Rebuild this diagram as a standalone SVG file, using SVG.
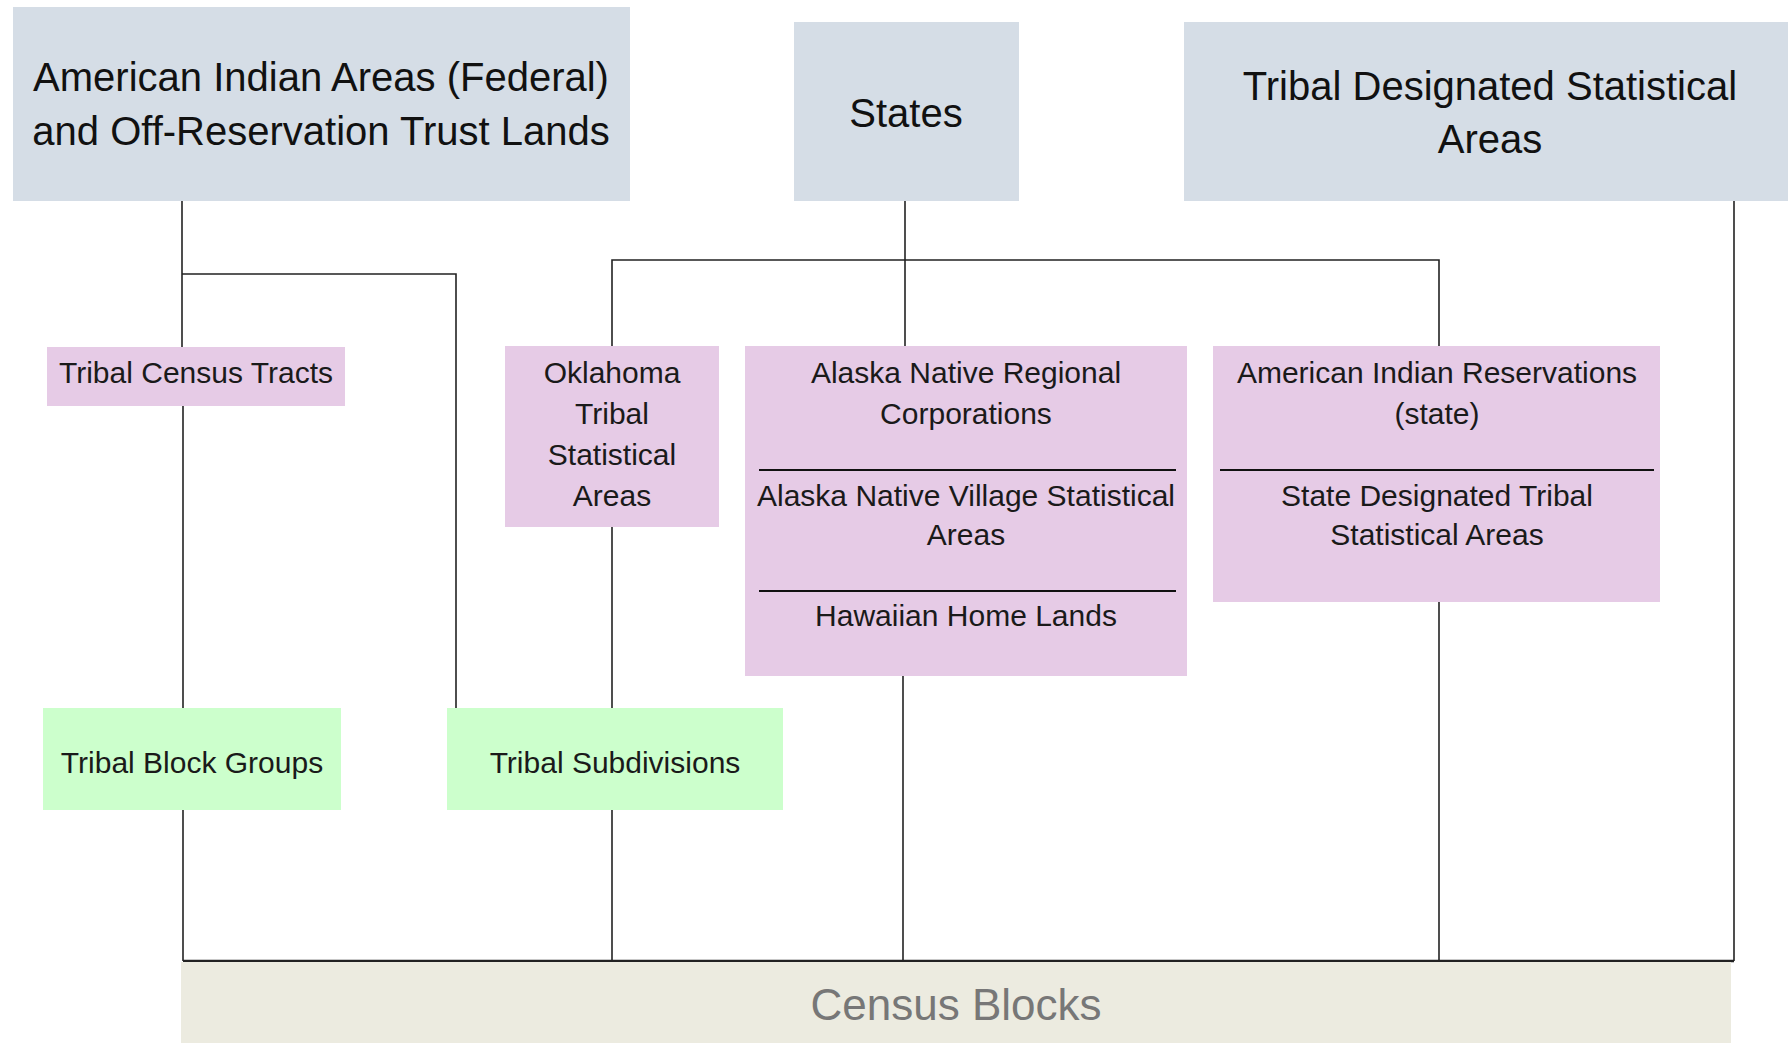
<svg xmlns="http://www.w3.org/2000/svg" width="1788" height="1043" viewBox="0 0 1788 1043">
<style>
.hdr{fill:#d5dde6}
.pk{fill:#e6cbe6}
.gr{fill:#ccffcc}
.cb{fill:#ecebe0}
.ht{font-family:"Liberation Sans",Arial,sans-serif;font-size:40px;fill:#111;text-anchor:middle}
.t{font-family:"Liberation Sans",Arial,sans-serif;font-size:30px;fill:#1a1a1a;text-anchor:middle}
.ct{font-family:"Liberation Sans",Arial,sans-serif;font-size:44px;fill:#777;text-anchor:middle}
.ln{stroke:#222;stroke-width:1.6;fill:none}
.dv{stroke:#111;stroke-width:2.2}
</style>
<rect width="1788" height="1043" fill="#ffffff"/>
<g id="connectors">
<path class="ln" d="M182 201V347"/>
<path class="ln" d="M182 274H456V708"/>
<path class="ln" d="M183 406V708"/>
<path class="ln" d="M183 810V961"/>
<path class="ln" d="M905 201V346"/>
<path class="ln" d="M612 346V260H1439V346"/>
<path class="ln" d="M612 527V708"/>
<path class="ln" d="M612 810V961"/>
<path class="ln" d="M903 676V961"/>
<path class="ln" d="M1439 602V961"/>
<path class="ln" d="M1734 201V961"/>
<path class="ln" d="M183 961H1734" style="stroke-width:2.4"/>
</g>
<g id="american-indian-areas">
<rect class="hdr" x="13" y="7" width="617" height="194"/>
<text class="ht" x="321" y="91">American Indian Areas (Federal)</text>
<text class="ht" x="321" y="145">and Off-Reservation Trust Lands</text>
</g>
<g id="states">
<rect class="hdr" x="794" y="22" width="225" height="179"/>
<text class="ht" x="906" y="127">States</text>
</g>
<g id="tribal-designated-statistical-areas">
<rect class="hdr" x="1184" y="22" width="612" height="179"/>
<text class="ht" x="1490" y="100">Tribal Designated Statistical</text>
<text class="ht" x="1490" y="153">Areas</text>
</g>
<g id="tribal-census-tracts">
<rect class="pk" x="47" y="347" width="298" height="59"/>
<text class="t" x="196" y="383">Tribal Census Tracts</text>
</g>
<g id="oklahoma">
<rect class="pk" x="505" y="346" width="214" height="181"/>
<text class="t" x="612" y="383">Oklahoma</text>
<text class="t" x="612" y="424">Tribal</text>
<text class="t" x="612" y="465">Statistical</text>
<text class="t" x="612" y="506">Areas</text>
</g>
<g id="alaska">
<rect class="pk" x="745" y="346" width="442" height="330"/>
<text class="t" x="966" y="383">Alaska Native Regional</text>
<text class="t" x="966" y="424">Corporations</text>
<line class="dv" x1="759" y1="470" x2="1176" y2="470"/>
<text class="t" x="966" y="506">Alaska Native Village Statistical</text>
<text class="t" x="966" y="545">Areas</text>
<line class="dv" x1="759" y1="591" x2="1176" y2="591"/>
<text class="t" x="966" y="626">Hawaiian Home Lands</text>
</g>
<g id="american-indian-reservations-state">
<rect class="pk" x="1213" y="346" width="447" height="256"/>
<text class="t" x="1437" y="383">American Indian Reservations</text>
<text class="t" x="1437" y="424">(state)</text>
<line class="dv" x1="1220" y1="470" x2="1654" y2="470"/>
<text class="t" x="1437" y="506">State Designated Tribal</text>
<text class="t" x="1437" y="545">Statistical Areas</text>
</g>
<g id="tribal-block-groups">
<rect class="gr" x="43" y="708" width="298" height="102"/>
<text class="t" x="192" y="773">Tribal Block Groups</text>
</g>
<g id="tribal-subdivisions">
<rect class="gr" x="447" y="708" width="336" height="102"/>
<text class="t" x="615" y="773">Tribal Subdivisions</text>
</g>
<g id="census-blocks">
<rect class="cb" x="181" y="962" width="1550" height="90"/>
<text class="ct" x="956" y="1020">Census Blocks</text>
</g>
</svg>
